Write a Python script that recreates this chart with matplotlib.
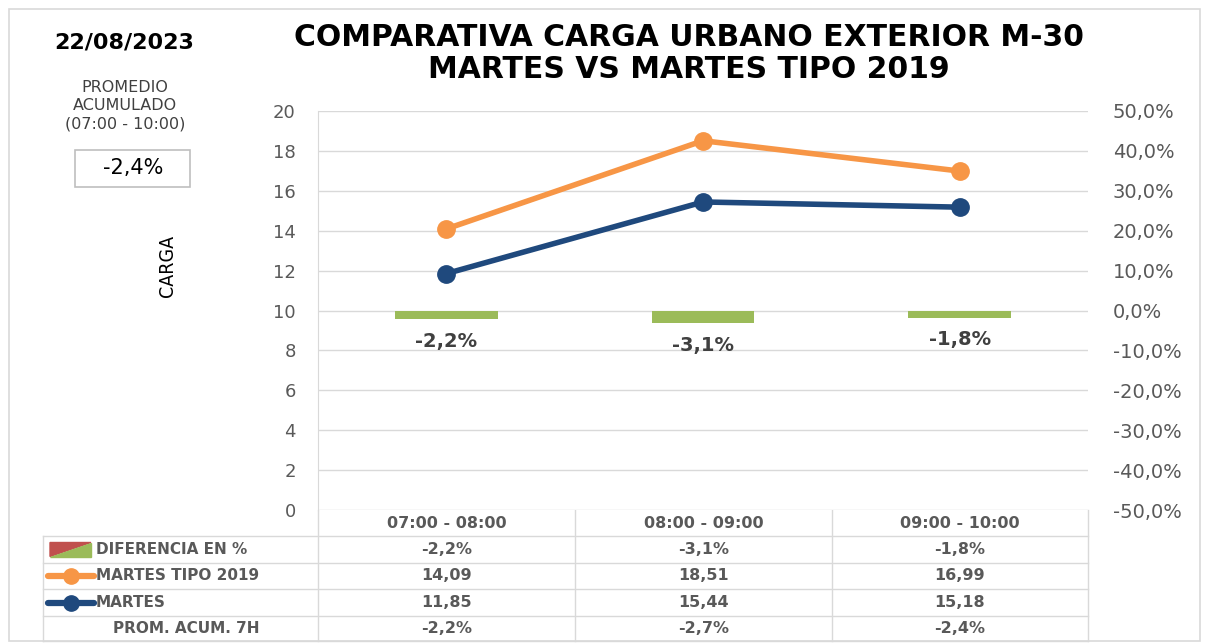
import matplotlib.pyplot as plt
from matplotlib.patches import Rectangle, Polygon
from matplotlib.lines import Line2D

horas = ['07:00 - 08:00', '08:00 - 09:00', '09:00 - 10:00']
tipo_2019 = [14.09, 18.51, 16.99]
martes = [11.85, 15.44, 15.18]
diferencia = [-2.2, -3.1, -1.8]
prom_acum = [-2.2, -2.7, -2.4]
prom_total = -2.4
fecha = '22/08/2023'

ORANGE = '#F79646'
BLUE = '#1F497D'
GREEN = '#9BBB59'
RED = '#C0504D'
GRID = '#D9D9D9'
TXT = '#595959'

plt.rcParams['font.family'] = ['DejaVu Sans']


def pct(v, dec=1):
    return f'{v:.{dec}f}%'.replace('.', ',')


def num(v):
    return f'{v:.2f}'.replace('.', ',')


W, H = 1206, 643
fig = plt.figure(figsize=(W / 100, H / 100), dpi=100)

# plot area in pixels
x0, x1, ytop, ybot = 318, 1088, 111, 510
ax = fig.add_axes([x0 / W, 1 - ybot / H, (x1 - x0) / W, (ybot - ytop) / H])
xs = range(len(horas))
ax.set_xlim(-0.5, len(horas) - 0.5)
ax.set_ylim(0, 20)
ax.set_yticks(range(0, 21, 2))
ax.grid(axis='y', color=GRID, lw=1)
ax.set_axisbelow(True)
ax.set_xticks([])
for s in ['top', 'right', 'bottom']:
    ax.spines[s].set_visible(False)
ax.spines['left'].set_color(GRID)
ax.tick_params(axis='y', length=0, labelsize=13, labelcolor=TXT, pad=16)

ax2 = ax.twinx()
ax2.set_ylim(-50, 50)
ax2.set_yticks(range(-50, 51, 10))
ax2.set_yticklabels([pct(v) for v in range(-50, 51, 10)])
ax2.tick_params(axis='y', length=0, labelsize=14, labelcolor=TXT, pad=18)
for s in ax2.spines.values():
    s.set_visible(False)
ax2.bar(xs, diferencia, width=0.4, color=GREEN, zorder=1)
for x, d in zip(xs, diferencia):
    ax2.annotate(pct(d), (x, d), xytext=(0, -16), textcoords='offset points',
                 ha='center', va='center', fontsize=14, fontweight='bold', color='#404040')

ax3 = ax.twinx()
ax3.set_ylim(0, 20)
ax3.axis('off')
ax3.plot(xs, tipo_2019, color=ORANGE, lw=4, marker='o', ms=12.5, zorder=3)
ax3.plot(xs, martes, color=BLUE, lw=4, marker='o', ms=12.5, zorder=3)

# overlay in pixel coordinates for texts and table
ov = fig.add_axes([0, 0, 1, 1], zorder=-1)
ov.set_xlim(0, W)
ov.set_ylim(H, 0)
ov.axis('off')

ov.add_patch(Rectangle((9, 9), 1191, 632, fill=False, ec=GRID, lw=1.2))
ov.text(689, 38, 'COMPARATIVA CARGA URBANO EXTERIOR M-30', ha='center', va='center',
        fontsize=21.5, fontweight='bold', color='black')
ov.text(689, 69, 'MARTES VS MARTES TIPO 2019', ha='center', va='center',
        fontsize=21.5, fontweight='bold', color='black')
ov.text(124, 43, fecha, ha='center', va='center', fontsize=16, fontweight='bold')
ov.text(125, 106, 'PROMEDIO\nACUMULADO\n(07:00 - 10:00)', ha='center', va='center',
        fontsize=11.5, color='#404040', linespacing=1.25)
ov.add_patch(Rectangle((75, 150), 115, 37, fill=False, ec='#BFBFBF', lw=1.2))
ov.text(133, 168, pct(prom_total), ha='center', va='center', fontsize=15, color='black')
ov.text(168, 266, 'CARGA', ha='center', va='center', rotation=90, fontsize=14,
        stretch='condensed', color='black')

# table
cols = [318, 575, 832, 1088]
rows = [536, 563, 589, 616, 641]
for y in rows:
    ov.plot([43, 1088], [y, y], color=GRID, lw=1)
for x in cols:
    ov.plot([x, x], [510, 641], color=GRID, lw=1)
ov.plot([43, 43], [536, 641], color=GRID, lw=1)

cx = [(a + b) / 2 for a, b in zip(cols[:-1], cols[1:])]
tkw = dict(ha='center', va='center', fontsize=11.5, fontweight='bold', color=TXT)
table_rows = [horas,
              [pct(v) for v in diferencia],
              [num(v) for v in tipo_2019],
              [num(v) for v in martes],
              [pct(v) for v in prom_acum]]
row_mid = [523] + [(a + b) / 2 for a, b in zip(rows[:-1], rows[1:])]
for ym, vals in zip(row_mid, table_rows):
    for x, v in zip(cx, vals):
        ov.text(x, ym, v, **tkw)

labels = ['DIFERENCIA EN %', 'MARTES TIPO 2019', 'MARTES', 'PROM. ACUM. 7H']
lx = [96, 96, 96, 113]
for ym, lab, x in zip(row_mid[1:], labels, lx):
    ov.text(x, ym, lab, ha='left', va='center', fontsize=11, fontweight='bold', color=TXT)

# legend keys
ym = row_mid[1]
ov.add_patch(Polygon([(50, ym - 7), (91, ym - 7), (50, ym + 7)], color=RED))
ov.add_patch(Polygon([(91, ym - 7), (91, ym + 7), (50, ym + 7)], color=GREEN))
for ym, c in [(row_mid[2], ORANGE), (row_mid[3], BLUE)]:
    ov.add_line(Line2D([48, 94], [ym, ym], color=c, lw=4.5, solid_capstyle='round'))
    ov.add_line(Line2D([71], [ym], color=c, marker='o', ms=11))

fig.savefig('out.png', dpi=100)
